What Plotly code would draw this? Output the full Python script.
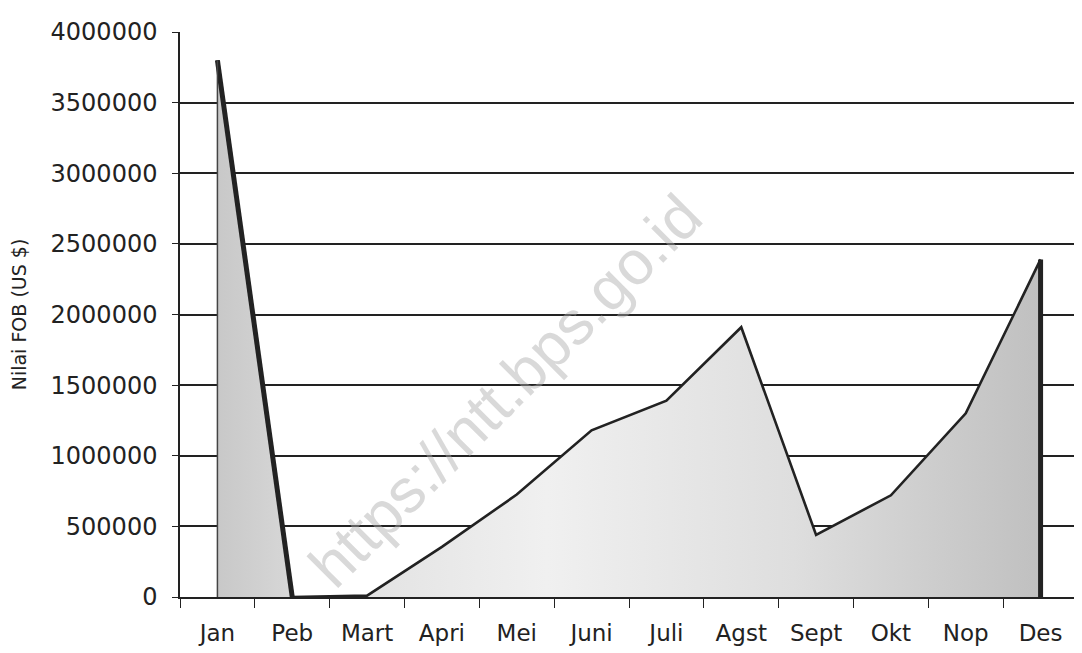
import plotly.graph_objects as go

months = ["Jan", "Peb", "Mart", "Apri", "Mei", "Juni", "Juli", "Agst", "Sept", "Okt", "Nop", "Des"]
fob_values = [3800000, 0, 10000, 355000, 725000, 1180000, 1390000, 1910000, 440000, 720000, 1300000, 2390000]
y_ticks = [0, 500000, 1000000, 1500000, 2000000, 2500000, 3000000, 3500000, 4000000]

fig = go.Figure()

# shaded area
fig.add_trace(go.Scatter(
    x=months, y=fob_values, mode="lines", line=dict(width=0),
    fill="tozeroy",
    fillgradient=dict(type="horizontal",
                      colorscale=[[0, "rgb(200,200,200)"], [0.15, "rgb(225,225,225)"],
                                  [0.4, "rgb(240,240,240)"], [0.7, "rgb(222,222,222)"],
                                  [1, "rgb(192,192,192)"]]),
    hoverinfo="skip", showlegend=False))

# main outline
fig.add_trace(go.Scatter(x=months, y=fob_values, mode="lines",
                         line=dict(color="#222", width=2.6), showlegend=False))
# thick Jan->Peb segment
fig.add_trace(go.Scatter(x=months[:2], y=fob_values[:2], mode="lines",
                         line=dict(color="#222", width=5), showlegend=False))
# thin vertical at Jan
fig.add_trace(go.Scatter(x=[months[0], months[0]], y=[0, fob_values[0]], mode="lines",
                         line=dict(color="#444", width=1.5), showlegend=False))
# thick vertical drop at Des
fig.add_trace(go.Scatter(x=[months[-1], months[-1]], y=[fob_values[-1], 0], mode="lines",
                         line=dict(color="#222", width=5), showlegend=False))

fig.add_annotation(text="https://ntt.bps.go.id", x=0.362, y=0.366, xref="paper", yref="paper",
                   showarrow=False, textangle=-45,
                   font=dict(family="Liberation Sans", size=62, color="rgba(170,170,170,0.45)"))

# partial right border of the plot frame
fig.add_shape(type="line", xref="paper", yref="paper", x0=1, x1=1, y0=0, y1=0.765,
              line=dict(color="#333", width=1.5))

fig.update_layout(
    width=1074, height=645,
    margin=dict(l=172, r=4, t=24, b=56),
    paper_bgcolor="white", plot_bgcolor="white",
    font=dict(family="DejaVu Sans", size=24, color="#222"),
    xaxis=dict(type="category", categoryorder="array", categoryarray=months,
               range=[-0.5, 11.5], tickson="boundaries", ticks="outside", ticklen=9,
               tickcolor="#222", showgrid=False, showline=True, linecolor="#222", linewidth=2,
               tickfont=dict(size=23), zeroline=False, automargin=False,
               ticklabelstandoff=14),
    yaxis=dict(range=[0, 4000000], tickvals=y_ticks, ticktext=[str(v) for v in y_ticks],
               showgrid=True, gridcolor="#222", gridwidth=1.5, ticks="outside", ticklen=6,
               tickcolor="#222", showline=True, linecolor="#222", linewidth=1.5,
               zeroline=False, tickfont=dict(size=24), automargin=False,
               ticklabelstandoff=10,
               title=dict(text="Nilai FOB (US $)", font=dict(size=19), standoff=28)),
)

fig.write_html("out.html")
